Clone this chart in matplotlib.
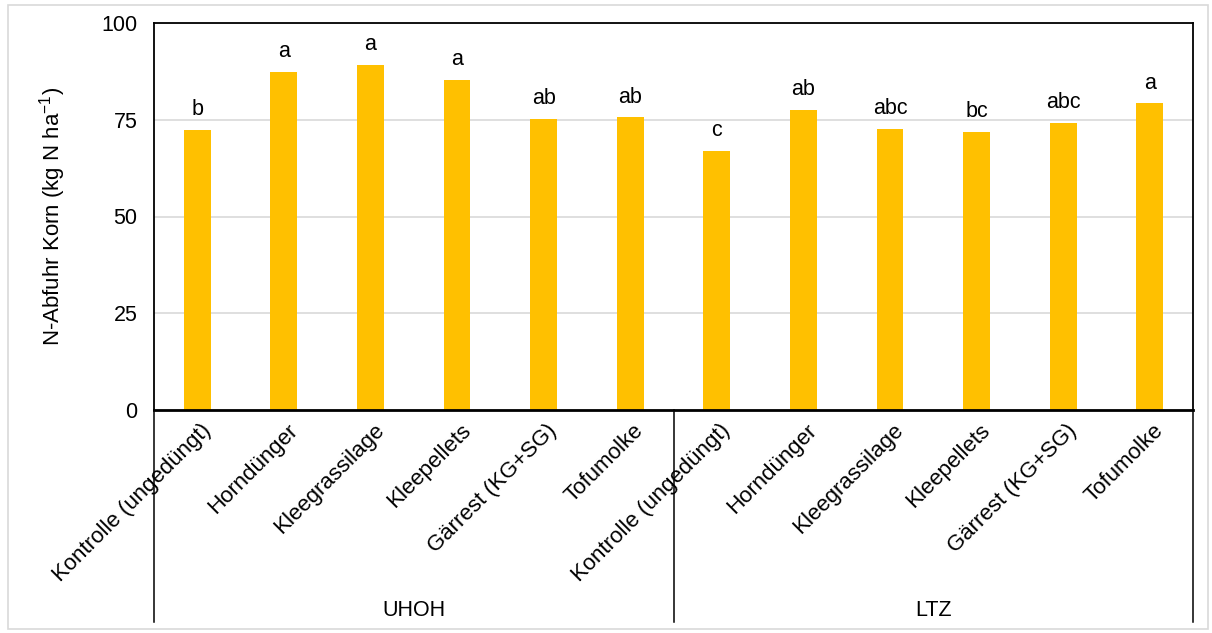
import matplotlib.pyplot as plt
import matplotlib.transforms as mtransforms
from matplotlib.patches import Rectangle

plt.rcParams['font.family'] = ['Liberation Sans', 'DejaVu Sans']
plt.rcParams['axes.unicode_minus'] = False

# data
treatments = ['Kontrolle (ungedüngt)', 'Horndünger', 'Kleegrassilage',
              'Kleepellets', 'Gärrest (KG+SG)', 'Tofumolke']
groups = ['UHOH', 'LTZ']
uhoh_values = [72.3, 87.3, 89.1, 85.4, 75.3, 75.6]
ltz_values = [67.0, 77.5, 72.6, 71.9, 74.2, 79.2]
uhoh_letters = ['b', 'a', 'a', 'a', 'ab', 'ab']
ltz_letters = ['c', 'ab', 'abc', 'bc', 'abc', 'a']

values = uhoh_values + ltz_values
letters = uhoh_letters + ltz_letters
labels = treatments + treatments
xs = list(range(len(values)))

fs = 15.5

fig = plt.figure(figsize=(12.12, 6.33), dpi=100)
ax = fig.add_axes([154 / 1212, 1 - 410 / 633, (1193 - 154) / 1212, (410 - 23) / 633])

fig.patches.append(Rectangle((8 / 1212, 4 / 633), 1200 / 1212, 624 / 633,
                             transform=fig.transFigure, fill=False,
                             edgecolor='#D9D9D9', lw=1.2))

ax.bar(xs, values, width=0.31, color='#FFC000', zorder=2)
for x, v, l in zip(xs, values, letters):
    ax.annotate(l, (x, v), xytext=(0, 7), textcoords='offset points',
                ha='center', va='bottom', fontsize=fs)

ax.set_xlim(-0.5, 11.5)
ax.set_ylim(0, 100)
ax.set_yticks([0, 25, 50, 75, 100])
ax.tick_params(axis='y', length=0, labelsize=fs, pad=12)
ax.set_xticks([])
ax.yaxis.grid(True, color='#D9D9D9', lw=1.2, zorder=0)
for s in ax.spines.values():
    s.set_color('black')
    s.set_linewidth(1.3)
ax.spines['bottom'].set_linewidth(2)
ax.set_ylabel('N-Abfuhr Korn (kg N ha$^{\\mathregular{-1}}$)', fontsize=16, labelpad=24)

# category labels
trans = ax.get_xaxis_transform()
off = mtransforms.offset_copy(trans, fig=fig, x=3, y=-10, units='dots')
for x, lab in zip(xs, labels):
    ax.text(x, 0, lab, transform=off, rotation=45, rotation_mode='anchor',
            ha='right', va='top', fontsize=16)

# group separators and labels
for xv in [-0.5, 5.5, 11.5]:
    ax.plot([xv, xv], [0, -212 / 387], transform=trans, color='black',
            lw=1.1, clip_on=False)
for i, g in enumerate(groups):
    ax.text(2.5 + 6 * i, -200 / 387, g, transform=trans, ha='center',
            va='center', fontsize=fs)

fig.savefig('out.png', dpi=100)
